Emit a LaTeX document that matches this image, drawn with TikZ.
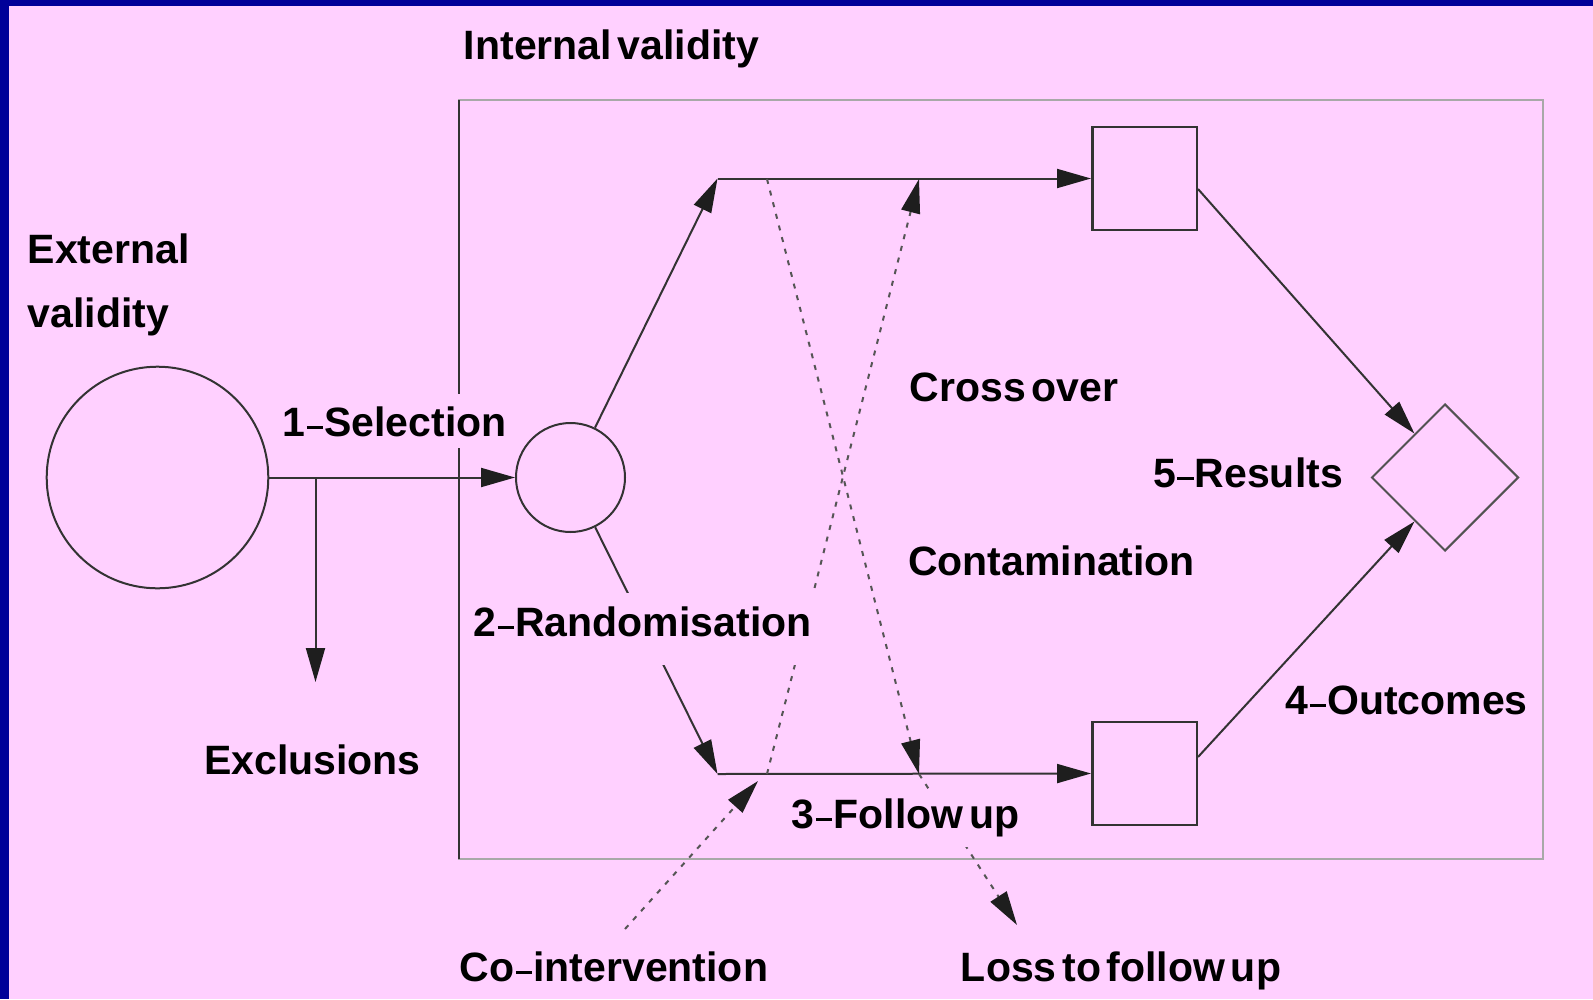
\documentclass[tikz,border=0pt]{standalone}
\usepackage{fontspec}
\setmainfont{Liberation Sans}
\usetikzlibrary{arrows.meta,shapes.geometric,calc}
\definecolor{bgpink}{RGB}{255,208,255}
\definecolor{frameblue}{RGB}{0,0,153}
\definecolor{ink}{RGB}{51,51,51}
\definecolor{headink}{RGB}{30,30,30}
\definecolor{boxgray}{RGB}{168,168,168}
\definecolor{dotgray}{RGB}{85,85,85}
% bold label font with tight word spacing
\newcommand{\lblfont}{\fontsize{41}{47}\selectfont\bfseries\spaceskip=0.14em\relax}
% short thin dash used in the numbered labels
\newcommand{\dsh}{\kern0.03em\rule[0.18em]{0.4em}{0.075em}\kern0.03em}

\begin{document}
\begin{tikzpicture}[x=1pt,y=-1pt,
  tip/.style={-{Triangle[length=34pt,width=19pt,color=headink]}},
  conn/.style={draw=ink,line width=2pt,tip},
  dots/.style={draw=dotgray,line width=2pt,dash pattern=on 5pt off 7pt,tip},
  lbl/.style={font=\lblfont,text=black,inner sep=0pt,anchor=base},
  cover/.style={fill=bgpink,inner xsep=4pt},
  ring/.style={circle,draw=ink,line width=2pt,inner sep=0pt},
  arm/.style={rectangle,draw=ink,line width=2.5pt,minimum width=104.5pt,minimum height=103pt,inner sep=0pt},
]
\useasboundingbox (0,0) rectangle (1593,999);
% slide background with its dark frame on the left and top
\fill[frameblue] (0,0) rectangle (1593,999);
\fill[bgpink] (9,6) rectangle (1593,999);

% internal validity frame
\draw[boxgray,line width=2.5pt] (459,100) rectangle (1543,859);
\draw[ink,line width=2pt] (459,100) -- (459,859);

% shapes
\node[ring,minimum size=221.6pt] (pop) at (157.5,477.5) {};
\node[ring,minimum size=109pt] (rnd) at (570.5,477.5) {};
\node[arm] (armA) at (1144.5,178.5) {};
\node[arm] (armB) at (1144.5,773.5) {};
\node[diamond,draw=ink!85,line width=2pt,minimum width=147pt,minimum height=147pt,inner sep=0pt] (res) at (1445,477.5) {};

% free ends and turning points
\coordinate (split) at (315.5,477.5);
\coordinate (excl) at (315.5,682);
\coordinate (armAin) at (717.5,178.5);
\coordinate (armBin) at (717.5,774);
\coordinate (contA) at (767,179);
\coordinate (contB) at (919,774);
\coordinate (crossA) at (767,774);
\coordinate (crossB) at (919,179);
\coordinate (lossEnd) at (1017,925);
\coordinate (coStart) at (625,929);
\coordinate (coEnd) at (758,781);

% solid connectors
\draw[conn] (pop.east) -- (rnd.west);
\draw[conn] (split) -- (excl);
\draw[conn] (rnd) -- (armAin);
\draw[conn] (rnd) -- (armBin);
\draw[conn] (armAin) -- (armA.west);
\draw[conn] (armBin) -- (armB.west);
\draw[conn] ($(armA.east)+(0,10.5)$) -- ($(res.west)!0.59!(res.north)$);
\draw[conn] ($(armB.east)+(0,-16.5)$) -- ($(res.west)!0.59!(res.south)$);

% dotted connectors
\draw[dots] (contA) -- (contB);
\draw[dots] (crossA) -- (crossB);
\draw[dots] (contB) -- (lossEnd);
\draw[dots] (coStart) -- (coEnd);

% labels
\node[lbl] (tInt) at (611.5,59.3) {Internal validity};
\node[lbl,anchor=base west] (tExt1) at (27.5,263) {External};
\node[lbl,anchor=base west] (tExt2) at (27.5,327) {validity};
\node[lbl,cover,inner ysep=12pt] (tSel) at (394.7,436) {1\dsh Selection};
\node[lbl] (tExc) at (312.5,774) {Exclusions};
\node[lbl,cover,inner ysep=14pt,text depth=14pt] (tRnd) at (642.6,636.7) {2\dsh Randomisation};
\node[lbl] (tCross) at (1014,401) {Cross over};
\node[lbl] (tCont) at (1051.5,575) {Contamination};
\node[lbl] (tRes) at (1248,487) {5\dsh Results};
\node[lbl] (tOut) at (1406.7,714) {4\dsh Outcomes};
\node[lbl,cover,inner ysep=10pt] (tFol) at (905.6,828.3) {3\dsh Follow up};
\node[lbl] (tCo) at (614,981) {Co\dsh intervention};
\node[lbl] (tLoss) at (1121,981) {Loss to follow up};
\end{tikzpicture}
\end{document}
